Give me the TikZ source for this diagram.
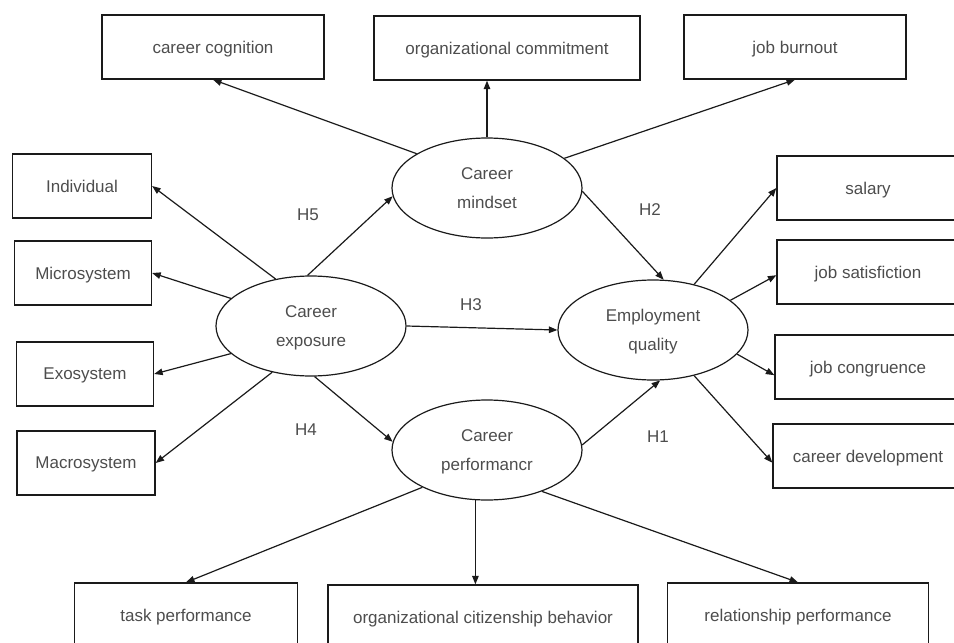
\documentclass[tikz,border=0pt]{standalone}
\usepackage{fontspec}
\setmainfont{Liberation Sans}
\usetikzlibrary{arrows.meta,shapes.geometric}
\definecolor{Ink}{HTML}{1A1A1A}
\definecolor{Txt}{HTML}{4D4D4D}

\begin{document}
\begin{tikzpicture}[x=1pt,y=-1pt,
  box/.style={draw=Ink,line width=1.3pt,minimum height=64pt,inner sep=0pt,text depth=0pt,text=Txt,font=\fontsize{17}{20}\selectfont},
  latent/.style={ellipse,draw=Ink,line width=1.2pt,minimum width=190pt,minimum height=100pt,inner sep=0pt,text depth=0pt,align=center,text=Txt,font=\fontsize{17}{29}\selectfont},
  link/.style={draw=Ink,line width=1.2pt,-{Triangle[length=8.5pt,width=6.5pt]}},
  hyp/.style={text=Txt,font=\fontsize{17}{20}\selectfont}]
  \useasboundingbox (0,0) rectangle (954,643);
  \clip (0,0) rectangle (954,643);
  \foreach \n/\x/\y/\w/\lab in {
    cc/213/47/222/career cognition,
    oc/507/48/266/organizational commitment,
    jb/795/47/222/job burnout,
    ind/82/186/139/Individual,
    mic/83/273/137/Microsystem,
    exo/85/374/137/Exosystem,
    mac/86/463/138/Macrosystem,
    sal/868/188/182/salary,
    sat/868/272/182/job satisfiction,
    con/868/367/186/job congruence,
    dev/868/456/190/career development,
    tp/186/615/223/task performance,
    ocb/483/617/310/organizational citizenship behavior,
    rp/798/615/261/relationship performance} {
    \node[box,minimum width=\w pt] (\n) at (\x,\y) {\lab};
  }
  \node[latent] (cm) at (487,188) {Career\\mindset};
  \node[latent] (ce) at (311,326) {Career\\exposure};
  \node[latent] (eq) at (653,330) {Employment\\quality};
  \node[latent] (cp) at (487,450) {Career\\performancr};
  \node[hyp] (h5) at (308,215) {H5};
  \node[hyp] (h2) at (650,210) {H2};
  \node[hyp] (h3) at (471,305) {H3};
  \node[hyp] (h4) at (306,430) {H4};
  \node[hyp] (h1) at (658,437) {H1};
  \draw[link] (cm.154) -- (cc.south);
  \draw[link] (cm.90) -- (cm.90 |- oc.south);
  \draw[link] (cm.21) -- (jb.south);
  \draw[link] (cm.-2) -- (eq.78);
  \draw[link] (ce.127) -- (ind.east);
  \draw[link] (ce.94) -- (cm.185);
  \draw[link] (ce.161) -- (mic.east);
  \draw[link] (ce.199) -- (exo.east);
  \draw[link] (ce.230) -- (mac.east);
  \draw[link] (ce.east) -- (eq.west);
  \draw[link] (ce.274) -- (cp.175);
  \draw[link] (cp.3) -- (eq.278);
  \draw[link] (cp.210) -- (tp.north);
  \draw[link] (cp.257) -- (cp.257 |- ocb.north);
  \draw[link] (cp.323) -- (rp.north);
  \draw[link] (eq.48) -- (sal.west);
  \draw[link] (eq.21) -- (sat.182);
  \draw[link] (eq.344) -- (con.185);
  \draw[link] (eq.312) -- (dev.184);
\end{tikzpicture}
\end{document}
